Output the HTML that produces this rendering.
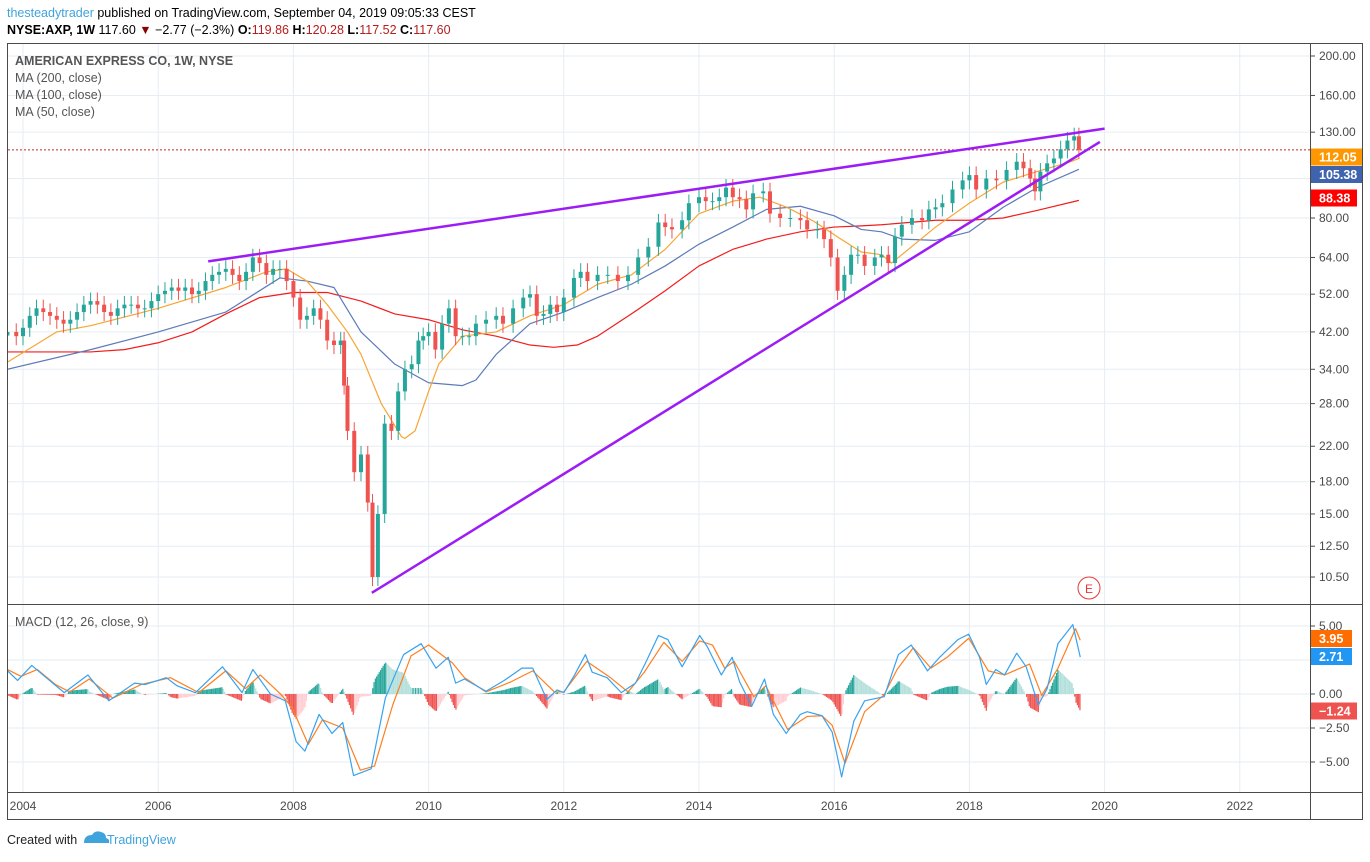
<!DOCTYPE html>
<html><head><meta charset="utf-8"><style>
html,body{margin:0;padding:0;background:#fff;}
body{width:1370px;height:857px;overflow:hidden;font-family:"Liberation Sans",Arial,sans-serif;}
svg text{font-family:"Liberation Sans",Arial,sans-serif;}
</style></head><body>
<svg id="chart" width="1370" height="857" viewBox="0 0 1370 857" xmlns="http://www.w3.org/2000/svg">
<g>
<text x="7" y="17" font-size="12.5" fill="#000"><tspan fill="#3fa3dc">thesteadytrader</tspan> published on TradingView.com, September 04, 2019 09:05:33 CEST</text>
<text x="7" y="34" font-size="12.5" fill="#000"><tspan font-weight="bold">NYSE:AXP, 1W</tspan>  117.60 <tspan fill="#8b0000">▼</tspan> −2.77 (−2.3%) <tspan font-weight="bold">O:</tspan><tspan fill="#b71c1c">119.86</tspan> <tspan font-weight="bold">H:</tspan><tspan fill="#b71c1c">120.28</tspan> <tspan font-weight="bold">L:</tspan><tspan fill="#b71c1c">117.52</tspan> <tspan font-weight="bold">C:</tspan><tspan fill="#b71c1c">117.60</tspan></text>
</g>
<g id="grid"></g>
<g id="main"></g>
<g id="macd"></g>
<g id="axes"></g>
<g fill="none" stroke="#4a4a4a" stroke-width="1">
<rect x="7.5" y="43.5" width="1355" height="776"/>
<line x1="1310.5" y1="43" x2="1310.5" y2="820"/>
<line x1="7" y1="604.5" x2="1363" y2="604.5"/>
<line x1="7" y1="792.5" x2="1363" y2="792.5"/>
</g>
<g font-size="12.5" fill="#555">
<text x="15" y="65" font-weight="bold">AMERICAN EXPRESS CO, 1W, NYSE</text>
<text x="15" y="82">MA (200, close)</text>
<text x="15" y="99">MA (100, close)</text>
<text x="15" y="116">MA (50, close)</text>
<text x="15" y="626">MACD (12, 26, close, 9)</text>
</g>
<g>
<circle cx="1089" cy="588" r="11" fill="#fff" stroke="#e53935" stroke-width="1"/>
<text x="1089" y="593" font-size="12" fill="#e53935" text-anchor="middle">E</text>
</g>
<g>
<text x="7" y="844" font-size="12.5" fill="#222">Created with</text>
<path d="M84 843 q0-8 8-8 q3-5 9-3 q5 1 5 6 q4 1 3 5 z" fill="#3fa3dc"/>
<text x="107" y="844" font-size="12.5" fill="#3fa3dc">TradingView</text>
</g>
</svg>
<script>
// ---- data ----
const priceT=[2003.77,2003.9,2004.0,2004.1,2004.2,2004.3,2004.4,2004.5,2004.6,2004.7,2004.8,2004.9,2005.0,2005.1,2005.2,2005.3,2005.4,2005.5,2005.6,2005.7,2005.8,2005.9,2006.0,2006.1,2006.2,2006.3,2006.4,2006.5,2006.6,2006.7,2006.8,2006.9,2007.0,2007.1,2007.2,2007.3,2007.4,2007.5,2007.6,2007.7,2007.8,2007.9,2008.0,2008.1,2008.2,2008.3,2008.4,2008.5,2008.6,2008.7,2008.75,2008.8,2008.9,2009.0,2009.1,2009.17,2009.25,2009.35,2009.45,2009.55,2009.65,2009.75,2009.85,2009.92,2010.0,2010.1,2010.2,2010.3,2010.4,2010.5,2010.6,2010.7,2010.85,2011.0,2011.1,2011.25,2011.4,2011.5,2011.6,2011.7,2011.8,2011.9,2012.0,2012.15,2012.25,2012.35,2012.5,2012.65,2012.8,2012.95,2013.1,2013.25,2013.4,2013.5,2013.6,2013.75,2013.85,2014.0,2014.1,2014.2,2014.3,2014.4,2014.5,2014.6,2014.7,2014.8,2014.95,2015.05,2015.2,2015.35,2015.5,2015.6,2015.75,2015.85,2015.95,2016.05,2016.15,2016.25,2016.35,2016.45,2016.6,2016.7,2016.8,2016.9,2017.0,2017.15,2017.3,2017.4,2017.5,2017.6,2017.75,2017.9,2018.0,2018.1,2018.25,2018.4,2018.55,2018.7,2018.8,2018.9,2018.97,2019.05,2019.15,2019.25,2019.35,2019.45,2019.55,2019.62];
const priceC=[42,41,43,46,48,47,46,45,44,45,47,49,50,49,47,46,48,49,49,48,48,50,52,53,54,53,54,52,53,56,58,59,60,58,56,59,64,62,58,60,60,56,51,45,46,48,45,40,39,40,31,24,19,21,16,10.5,15,25,24,30,34,35,40,41,42,38,44,48,41,41,41,44,45,46,44,48,51,52,46,46.5,49,47,51,57,59,56,58,58,56,58,64,68,78,76,75,79,87,90,88,88,90,95,90,89,84,92,93,82,80,80,79,75,75,71,64,53,58,65,65,61,64,65,62,72,77,80,79,84,85,87,94,99,102,94,100,99,105,110,106,100,93,104,109,112,118,124,127,117.6];
const ma50T=[2003.77,2004.5,2005.0,2006.0,2007.0,2007.6,2007.9,2008.2,2008.5,2008.8,2009.0,2009.3,2009.6,2009.65,2009.8,2010.0,2010.15,2010.5,2011.0,2011.5,2012.0,2012.5,2013.0,2013.5,2014.0,2014.5,2014.9,2015.3,2015.7,2016.1,2016.4,2016.7,2016.85,2017.0,2017.5,2018.0,2018.5,2019.0,2019.5,2019.62];
const ma50V=[35.4,42,43.5,48,54,59,60,56,49,42,37,28,23.2,23,24,30,35,41,42,46,49,55,58,67,82,88,90,85,78.5,71,66,65,62,65,76,87,98,104,110,112.05];
const ma100T=[2003.77,2005.0,2006.0,2007.0,2007.8,2008.2,2008.6,2009.0,2009.5,2010.0,2010.5,2010.7,2011.0,2011.5,2012.0,2012.5,2013.0,2013.5,2014.0,2014.5,2015.0,2015.5,2016.0,2016.4,2016.7,2017.0,2017.5,2018.0,2018.5,2019.0,2019.62];
const ma100V=[34,38,42,47,57,56,54,42,35,31.5,31,32,37,44,47,51,55,61,69,76,84,85.5,81,75,74,71,70.5,74,85,95,105.38];
const ma200T=[2003.77,2005.0,2005.5,2006.0,2006.5,2007.0,2007.5,2008.0,2008.5,2009.0,2009.5,2010.0,2010.5,2011.0,2011.5,2011.85,2012.2,2012.5,2013.0,2013.5,2014.0,2014.5,2015.0,2015.5,2016.0,2016.4,2016.7,2017.5,2018.0,2018.5,2019.0,2019.62];
const ma200V=[37.5,37.5,38,39.5,42,46.5,51,52.5,52.5,50,46.5,45,42.5,41,39,38.5,39,41,46.5,53,61,67,71,74,76,76.5,77,79,79,80,83.5,88.38];
const macdT=[2003.73,2003.92,2004.13,2004.32,2004.61,2004.96,2005.27,2005.65,2005.81,2006.12,2006.28,2006.55,2006.95,2007.24,2007.4,2007.66,2007.88,2008.04,2008.17,2008.38,2008.57,2008.73,2008.89,2009.15,2009.36,2009.63,2009.89,2010.11,2010.29,2010.4,2010.53,2010.85,2011.12,2011.38,2011.54,2011.75,2011.9,2012.0,2012.16,2012.32,2012.42,2012.64,2012.85,2013.06,2013.22,2013.4,2013.54,2013.75,2014.01,2014.12,2014.33,2014.49,2014.6,2014.78,2014.97,2015.1,2015.29,2015.5,2015.6,2015.82,2015.97,2016.11,2016.29,2016.45,2016.74,2016.95,2017.14,2017.38,2017.56,2017.83,2017.99,2018.15,2018.25,2018.39,2018.52,2018.7,2018.84,2019.02,2019.15,2019.31,2019.53,2019.64];
const macdV=[1.9,1.0,2.1,1.3,0.1,1.4,-0.5,0.8,0.7,1.2,0.6,0.1,2.0,0.1,1.8,0,-0.5,-3.5,-4.2,-1.5,-2.9,-2.1,-6.0,-5.5,-0.3,2.9,3.7,1.9,2.7,0.8,1.1,0.2,1.0,1.9,1.9,-0.4,0.3,0.1,1.4,2.9,1.6,1.2,0.1,0.8,2.4,4.3,4.0,2.0,4.3,3.5,1.4,2.7,0.9,-0.9,1.1,-1.5,-2.9,-1.5,-1.3,-1.6,-2.8,-6.1,-2.0,-0.5,-0.2,2.9,3.6,1.7,2.7,4.0,4.4,2.7,0.7,1.8,1.4,3.0,2.0,-0.8,0.4,3.7,5.1,2.71];
const sigT=[2003.73,2003.97,2004.21,2004.48,2004.69,2004.98,2005.33,2005.75,2006.18,2006.6,2007.0,2007.29,2007.51,2007.82,2007.98,2008.22,2008.43,2008.73,2008.99,2009.2,2009.47,2009.74,2010.0,2010.35,2010.53,2010.85,2011.22,2011.54,2011.86,2012.0,2012.34,2012.69,2012.95,2013.19,2013.48,2013.75,2014.01,2014.2,2014.38,2014.52,2014.81,2014.99,2015.31,2015.6,2015.82,2015.97,2016.16,2016.45,2016.74,2016.93,2017.17,2017.43,2017.67,2017.99,2018.28,2018.52,2018.89,2019.07,2019.31,2019.57,2019.64];
const sigV=[1.9,1.3,1.8,0.7,0.15,1.1,-0.3,0.7,1.2,0.1,1.7,0.4,1.4,-0.05,-1.0,-3.7,-1.9,-2.5,-5.6,-5.3,-0.8,2.8,3.6,2.3,1.2,0.15,0.9,1.7,0.15,0.15,2.4,1.2,0.15,1.6,3.8,2.4,3.9,3.6,1.9,2.4,-0.2,0.6,-2.6,-1.65,-1.6,-2.3,-5.1,-1.3,-0.05,1.8,3.4,1.9,2.7,4.1,1.7,1.4,2.2,-0.1,1.9,4.8,3.95];
const priceTicks=[200,160,130,80,64,52,42,34,28,22,18,15,12.5,10.5];
const priceTickLabels=["200.00","160.00","130.00","80.00","64.00","52.00","42.00","34.00","28.00","22.00","18.00","15.00","12.50","10.50"];
const macdTicks=[5,0,-2.5,-5];
const macdTickLabels=["5.00","0.00","−2.50","−5.00"];
const yearTicks=[2004,2006,2008,2010,2012,2014,2016,2018,2020,2022];
const upperTrendT=[2006.74,2020.0], upperTrendP=[62.6,132.6];
const lowerTrendT=[2009.16,2019.93], lowerTrendP=[9.6,123];
const lastClose=117.6;

// ---- scales ----
const NS="http://www.w3.org/2000/svg";
const X=t=>23+(t-2004)*67.6;
const Y=p=>56+(Math.log(200)-Math.log(p))*176.8;
const YM=v=>694-v*13.6;
function mk(tag,parent,attrs){const e=document.createElementNS(NS,tag);for(const k in attrs)e.setAttribute(k,attrs[k]);parent.appendChild(e);return e;}
const grid=document.getElementById('grid'),main=document.getElementById('main'),macd=document.getElementById('macd'),axes=document.getElementById('axes');

const defs=mk('defs',document.getElementById('chart'),{});
const c1=mk('clipPath',defs,{id:'cm'});mk('rect',c1,{x:8,y:44,width:1302,height:560});
const c2=mk('clipPath',defs,{id:'cd'});mk('rect',c2,{x:8,y:605,width:1302,height:187});
main.setAttribute('clip-path','url(#cm)');macd.setAttribute('clip-path','url(#cd)');

yearTicks.forEach((yr,i)=>{
  const l=mk('line',grid,{x1:X(yr),x2:X(yr),y1:44,y2:792,stroke:'#e6edf3'});
  
  
  const tx=mk('text',axes,{x:X(yr),y:810,'font-size':12,fill:'#4a4a4a','text-anchor':'middle'});
  tx.textContent=yr;
  
  
});
priceTicks.concat([100]).forEach(p=>{
  const l=mk('line',grid,{x1:8,x2:1310,y1:Y(p),y2:Y(p),stroke:'#e6edf3'});
  
  
});
priceTicks.forEach((p,i)=>{
  mk('line',axes,{x1:1310,x2:1315,y1:Y(p),y2:Y(p),stroke:'#4a4a4a'});
  const tx=mk('text',axes,{x:1319,y:Y(p)+4,'font-size':12,fill:'#4a4a4a'});
  tx.textContent=priceTickLabels[i];
  
  
});
[5,2.5,0,-2.5,-5].forEach(v=>{
  const l=mk('line',grid,{x1:8,x2:1310,y1:YM(v),y2:YM(v),stroke:'#e6edf3'});
  
  
});
macdTicks.forEach((v,i)=>{
  mk('line',axes,{x1:1310,x2:1315,y1:YM(v),y2:YM(v),stroke:'#4a4a4a'});
  const tx=mk('text',axes,{x:1319,y:YM(v)+4,'font-size':12,fill:'#4a4a4a'});
  tx.textContent=macdTickLabels[i];
  
  
});

const dl=mk('line',main,{x1:8,x2:1310,y1:Y(lastClose),y2:Y(lastClose),stroke:'#c62828','stroke-dasharray':'2,2'});



function poly(parent,T,V,fy,color,w,name){
  const pl=mk('polyline',parent,{points:T.map((t,i)=>X(t)+','+fy(V[i])).join(' '),fill:'none',stroke:color,'stroke-width':w,'stroke-linejoin':'round'});
  
  
}
poly(main,ma200T,ma200V,Y,'#f21c1c',1.2,'ma200-line');
poly(main,ma100T,ma100V,Y,'#5c7bb8',1.2,'ma100-line');
poly(main,ma50T,ma50V,Y,'#f7a534',1.2,'ma50-line');

for(let i=0;i<priceT.length;i++){
  const c=priceC[i],o=i?priceC[i-1]:c*0.98,up=c>=o,col=up?'#26a69a':'#ef5350';
  const x=X(priceT[i]),hi=Math.max(o,c)*1.05,lo=Math.min(o,c)*0.95;
  const g=mk('g',main,{});
  
  
  mk('line',g,{x1:x,x2:x,y1:Y(hi),y2:Y(lo),stroke:col,'stroke-width':1});
  const yt=Y(Math.max(o,c)),yb=Y(Math.min(o,c));
  mk('rect',g,{x:x-2,y:yt,width:4,height:Math.max(1,yb-yt),fill:col});
}

function trend(T,P,name){
  const l=mk('line',main,{x1:X(T[0]),y1:Y(P[0]),x2:X(T[1]),y2:Y(P[1]),stroke:'#9c1cf5','stroke-width':2.5});
  
  
}
trend(upperTrendT,upperTrendP,'upper-trendline');
trend(lowerTrendT,lowerTrendP,'lower-trendline');

function at(T,V,t){if(t<=T[0])return V[0];for(let i=1;i<T.length;i++)if(t<=T[i]){const f=(t-T[i-1])/(T[i]-T[i-1]);return V[i-1]+f*(V[i]-V[i-1]);}return V[V.length-1];}
let prev=null;
for(let t=2003.77;t<=2019.64;t+=1/52){
  const h=at(macdT,macdV,t)-at(sigT,sigV,t);
  let col;
  if(h>=0)col=(prev===null||h>=prev)?'#26a69a':'#b2dfdb';else col=(prev===null||h<=prev)?'#ef5350':'#ffcdd2';
  prev=h;
  const y0=YM(0),y1=YM(h);
  const r=mk('rect',macd,{x:X(t)-0.6,y:Math.min(y0,y1),width:1.2,height:Math.abs(y1-y0),fill:col});
  
  
}
poly(macd,sigT,sigV,YM,'#ff7f1e',1.2,'signal-line');
poly(macd,macdT,macdV,YM,'#37a2f0',1.2,'macd-line');

function badge(yc,txt,bg,w,name){
  const g=mk('g',axes,{});
  
  
  mk('rect',g,{x:1311,y:yc-8.5,width:w,height:17,fill:bg});
  const t=mk('text',g,{x:1319,y:yc+4.5,'font-size':12.5,'font-weight':'bold',fill:'#fff'});
  t.textContent=txt;
}
badge(157,'112.05','#ff9800',52,'ma50-badge');
badge(174.5,'105.38','#3f63ad',52,'ma100-badge');
badge(198,'88.38','#ff0000',46,'ma200-badge');
badge(638.5,'3.95','#ff6d00',41,'signal-badge');
badge(656.5,'2.71','#2196f3',41,'macd-badge');
badge(711,'−1.24','#ef5350',46,'histogram-badge');
</script>
</body></html>
